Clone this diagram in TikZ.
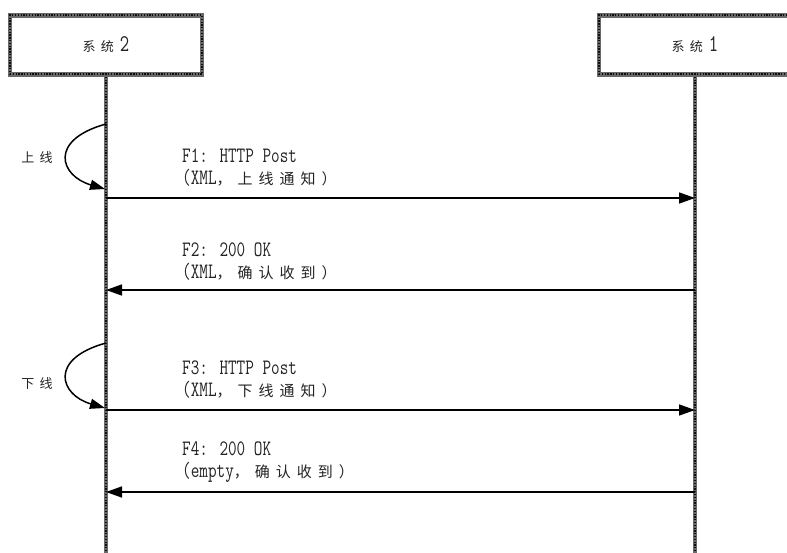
\documentclass[tikz,border=0pt]{standalone}
\usepackage{fontspec}
\usetikzlibrary{arrows.meta,positioning,calc}
\newfontfamily\latinfont[FakeStretch=0.76]{Latin Modern Mono}
\newfontfamily\zhfont[LetterSpace=40]{Noto Sans CJK SC}
\newcommand{\zh}[2][15]{{\zhfont\fontsize{#1}{#1}\selectfont #2}}
\definecolor{lifecol}{RGB}{105,105,105}
\definecolor{dotcol}{RGB}{15,15,15}
\definecolor{txtcol}{RGB}{35,35,35}
\tikzset{
  % system box with hatched border
  sysbox/.style={rectangle, draw=lifecol, line width=4.5pt, minimum width=192pt, minimum height=59pt,
                 inner sep=0pt, text=txtcol, font=\latinfont\fontsize{24}{24}\selectfont,
                 postaction={draw=dotcol, line width=2pt, dash pattern=on 1.3pt off 1.5pt}},
  % lifeline
  lifeline/.style={draw=lifecol, line width=4.5pt,
                   postaction={draw=dotcol, line width=2pt, dash pattern=on 1.3pt off 1.5pt}},
  % message arrow
  msgarrow/.style={-{Triangle[length=16pt,width=11pt]}, line width=1.5pt, black},
  % self arrow on a lifeline
  selfarrow/.style={-{Triangle[length=15pt,width=10pt]}, line width=1.5pt, black},
  % message label
  msglabel/.style={align=left, anchor=south west, inner sep=0pt, text=txtcol,
                   font=\latinfont\fontsize{22}{22.5}\selectfont},
  % state label
  statelabel/.style={inner sep=0pt, text=txtcol},
}
\begin{document}
\begin{tikzpicture}[x=1pt,y=-1pt]
  \useasboundingbox (0,0) rectangle (787,553);
  \clip (0,0) rectangle (787,553);
  % systems
  \node[sysbox] (sys2) at (106,45) {\zh[13]{系统}\hspace{6pt}2};
  \node[sysbox] (sys1) at (695,45) {\zh[13]{系统}\hspace{6pt}1};
  \coordinate (end2) at (106,560);
  \coordinate (end1) at (695,560);
  \draw[lifeline] (sys2.south) -- (end2);
  \draw[lifeline] (sys1.south) -- (end1);
  % points on lifelines
  \coordinate (a1) at (106,198);
  \coordinate (b1) at (695,198);
  \coordinate (a2) at (106,290);
  \coordinate (b2) at (695,290);
  \coordinate (a3) at (106,410);
  \coordinate (b3) at (695,410);
  \coordinate (a4) at (106,492);
  \coordinate (b4) at (695,492);
  % online / offline
  \coordinate (on1) at (106,124);
  \coordinate (on2) at (105,189);
  \coordinate (off1) at (106,343);
  \coordinate (off2) at (105,408);
  \draw[selfarrow] (on1) .. controls (48,140) and (60,176) .. (on2);
  \draw[selfarrow] (off1) .. controls (48,359) and (60,395) .. (off2);
  \node[statelabel] (online) at (37,158) {\zh[13]{上线}};
  \node[statelabel] (offline) at (37,384) {\zh[13]{下线}};
  % messages
  \draw[msgarrow] (a1) -- (b1);
  \draw[msgarrow] (b2) -- (a2);
  \draw[msgarrow] (a3) -- (b3);
  \draw[msgarrow] (b4) -- (a4);
  \node[msglabel] (l1) at ($(a1)+(76,-11)$) {F1: HTTP Post\\(XML\zh{，上线通知）}};
  \node[msglabel] (l2) at ($(a2)+(76,-9)$) {F2: 200 OK\\(XML\zh{，确认收到）}};
  \node[msglabel] (l3) at ($(a3)+(76,-11)$) {F3: HTTP Post\\(XML\zh{，下线通知）}};
  \node[msglabel] (l4) at ($(a4)+(76,-9)$) {F4: 200 OK\\(empty\zh{，确认收到）}};
\end{tikzpicture}
\end{document}
